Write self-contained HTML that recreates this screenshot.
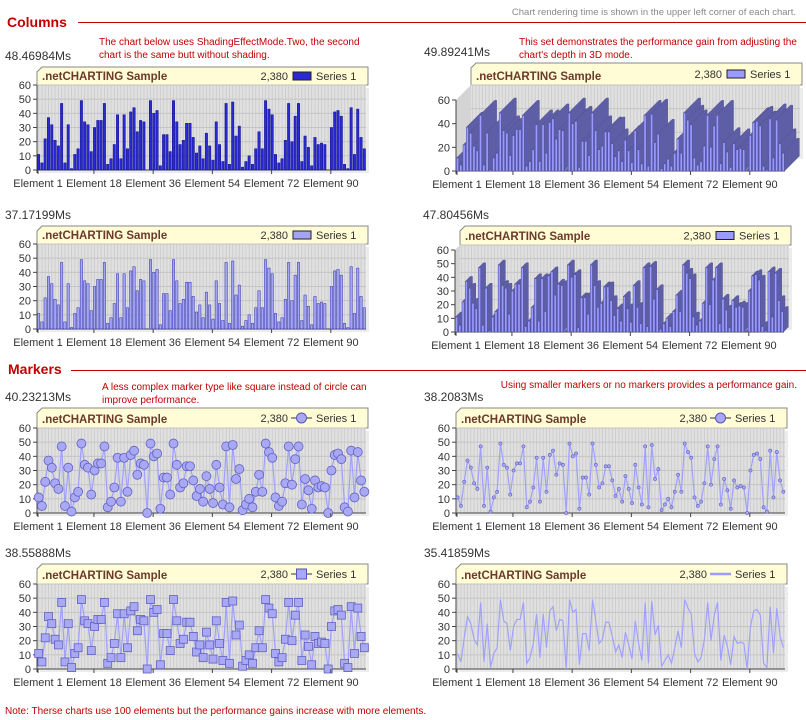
<!DOCTYPE html>
<html><head><meta charset="utf-8"><style>
body{margin:0;background:#fff;width:806px;height:720px;overflow:hidden}
svg{display:block}
</style></head><body>
<svg id="s" width="806" height="720" xmlns="http://www.w3.org/2000/svg" font-family="Liberation Sans, sans-serif"></svg>
<script>
var D=[11,5,22,37,32,21,17,47,5,32,1,11,15,49,34,32,13,30,35,35,47,4,8,18,39,8,39,15,41,44,27,35,34,0,49,40,42,3,25,25,13,49,34,18,21,33,33,23,12,17,8,26,17,7,34,18,6,47,4,48,24,31,2,6,10,4,15,27,15,49,43,39,11,5,8,21,47,20,38,47,6,24,16,3,23,18,19,18,0,30,41,42,38,4,1,44,11,43,23,15];
var o='';
function t(x,y,s,sz,fill,anchor,extra){o+='<text x="'+x+'" y="'+y+'" font-size="'+sz+'" fill="'+fill+'"'+(anchor?' text-anchor="'+anchor+'"':'')+(extra||'')+'>'+s+'</text>';}
t(796,15,'Chart rendering time is shown in the upper left corner of each chart.',9.5,'#888','end');
t(7,27,'Columns',14,'#c00000',null,' font-weight="bold"');
o+='<line x1="78" y1="22.5" x2="806" y2="22.5" stroke="#c00000"/>';
t(8,374,'Markers',14,'#c00000',null,' font-weight="bold"');
o+='<line x1="71" y1="370.5" x2="806" y2="370.5" stroke="#c00000"/>';
t(99,45,'The chart below uses ShadingEffectMode.Two, the second',10,'#c00000');
t(99,58,'chart is the same butt without shading.',10,'#c00000');
t(519,45,'This set demonstrates the performance gain from adjusting the',10,'#c00000');
t(519,58,"chart's depth in 3D mode.",10,'#c00000');
t(102,390,'A less complex marker type like square instead of circle can',10,'#c00000');
t(102,403,'improve performance.',10,'#c00000');
t(797,388,'Using smaller markers or no markers provides a performance gain.',10,'#c00000','end');
t(5,714,'Note: Therse charts use 100 elements but the performance gains increase with more elements.',10,'#c00000');

function chart(c){
 var X0=c.x,X1=c.x+329,T=c.t,PT=c.pt,PB=c.pb,d=c.d||0,ms=c.ms;
 t(c.x-32,T-7,ms,12,'#333');
 var tx0=X0+d,tx1=X1+d+2,ty0=T,ty1=c.tb;
 o+='<path d="M'+(tx0+5)+' '+ty0+' L'+tx1+' '+ty0+' L'+tx1+' '+ty1+' L'+tx0+' '+ty1+' L'+tx0+' '+(ty0+5)+' Z" fill="#fffcd6" stroke="#888"/>';
 t(tx0+5,ty1-5,'.netCHARTING Sample',11.5,'#6b3a2a',null,' font-weight="bold"');
 var by0=T+(ty1-T)/2+4;
 t(tx1-52,by0,'Series 1',11,'#333');
 var lx=tx1-75,ly=by0-8;
 if(c.type=='bar'){o+='<rect x="'+lx+'" y="'+ly+'" width="18" height="8" fill="'+c.fill+'" stroke="#222"/>';}
 else{o+='<line x1="'+(lx-2)+'" y1="'+(ly+4)+'" x2="'+(lx+19)+'" y2="'+(ly+4)+'" stroke="'+(c.m?'#333':'#9c9cff')+'" stroke-width="'+(c.m?1:2.5)+'"/>';
  if(c.m=='c')o+='<circle cx="'+(lx+8.5)+'" cy="'+(ly+4)+'" r="5" fill="#a8a8f4" stroke="#5555bb"/>';
  if(c.m=='d')o+='<circle cx="'+(lx+8.5)+'" cy="'+(ly+4)+'" r="5" fill="#a8a8f4" stroke="#5555bb"/>';
  if(c.m=='s')o+='<rect x="'+(lx+3.5)+'" y="'+(ly-1)+'" width="10" height="10" fill="#a8a8f4" stroke="#5555bb"/>';}
 t(lx-5,by0,'2,380',11,'#333','end');
 var H=PB-PT;
 function Y(v){return PB-v/60*H;}
 if(d){o+='<path d="M'+X0+' '+PB+' L'+X0+' '+PT+' L'+(X0+d)+' '+(PT-d)+' L'+(X0+d)+' '+(PB-d)+' Z" fill="#d4d4d4"/>';
  o+='<path d="M'+X0+' '+PB+' L'+(X0+d)+' '+(PB-d)+' L'+(X1+d)+' '+(PB-d)+' L'+X1+' '+PB+' Z" fill="#c8c8c8"/>';}
 o+='<rect x="'+(X0+d+3)+'" y="'+(PT-d+3)+'" width="329" height="'+H+'" fill="#ececec"/>';
 o+='<rect x="'+(X0+d)+'" y="'+(PT-d)+'" width="329" height="'+H+'" fill="#e0e0e0"/>';
 var st=329/100;
 for(var i=0;i<100;i++){var gx=X0+d+i*st+st/2;o+='<line x1="'+gx+'" y1="'+(PT-d)+'" x2="'+gx+'" y2="'+(PB-d)+'" stroke="#cacaca" stroke-width="0.8"/>';}
 for(var v=0;v<=60;v+=c.ys){var yy=Y(v);o+='<line x1="'+(X0+d)+'" y1="'+(yy-d)+'" x2="'+(X1+d)+'" y2="'+(yy-d)+'" stroke="#c4c4c4"/>';
  o+='<line x1="'+(X0-4)+'" y1="'+yy+'" x2="'+X0+'" y2="'+yy+'" stroke="#444"/>';
  t(X0-6,yy+4,v,11,'#333','end');}
 o+='<line x1="'+X0+'" y1="'+PT+'" x2="'+X0+'" y2="'+(PB+3)+'" stroke="#444"/>';
 o+='<line x1="'+(X0-3)+'" y1="'+PB+'" x2="'+X1+'" y2="'+PB+'" stroke="#444"/>';
 if(c.type=='bar'){
  var bw=d?2.2:2.4;
  for(var i=0;i<100;i++){var bx=X0+i*st+0.4,by=Y(D[i]);
   if(d){o+='<path d="M'+bx+' '+by+' L'+(bx+d)+' '+(by-d)+' L'+(bx+bw+d)+' '+(by-d)+' L'+(bx+bw+d)+' '+(PB-d)+' L'+(bx+bw)+' '+PB+' L'+(bx+bw)+' '+by+' Z" fill="#5e5ea6" stroke="#4a4a8a" stroke-width="0.4"/>';}
   o+='<rect x="'+bx+'" y="'+by+'" width="'+bw+'" height="'+(PB-by)+'" fill="'+c.fill+'" stroke="'+c.stroke+'" stroke-width="0.5"/>';}
 }else{
  var p='';for(var i=0;i<100;i++){p+=(i?'L':'M')+(X0+i*st+st/2)+' '+Y(D[i]);}
  o+='<path d="'+p+'" fill="none" stroke="#a0a0ff" stroke-width="1.2"/>';
  for(var i=0;i<100;i++){var mx=X0+i*st+st/2,my=Y(D[i]);
   if(c.m=='c')o+='<circle cx="'+mx+'" cy="'+my+'" r="4.5" fill="#a8a8f4" stroke="#6060c0" stroke-width="0.8"/>';
   if(c.m=='s')o+='<rect x="'+(mx-4)+'" y="'+(my-4)+'" width="8" height="8" fill="#a8a8f4" stroke="#6060c0" stroke-width="0.8"/>';
   if(c.m=='d')o+='<circle cx="'+mx+'" cy="'+my+'" r="1.6" fill="#a8a8f4" stroke="#6060c0" stroke-width="0.6"/>';}
 }
 var L=['Element 1','Element 18','Element 36','Element 54','Element 72','Element 90'],TX=[0,17,35,53,71,89];
 for(var k=0;k<6;k++){var lx2=X0+TX[k]*st+1;o+='<line x1="'+lx2+'" y1="'+PB+'" x2="'+lx2+'" y2="'+(PB+4)+'" stroke="#444"/>';
  t(lx2,PB+17,L[k],11,'#333','middle');}
}
chart({x:37,t:67,tb:85,pt:85,pb:170,type:'bar',fill:'#2a2ad0',stroke:'#101090',ys:10,ms:'48.46984Ms'});
chart({x:37,t:226,tb:244,pt:244,pb:329,type:'bar',fill:'#a4a4f4',stroke:'#3333aa',ys:10,ms:'37.17199Ms'});
chart({x:456,t:63,tb:85,pt:100,pb:171,d:15,type:'bar',fill:'#9a9aff',stroke:'#5050a0',ys:20,ms:'49.89241Ms'});
chart({x:455,t:226,tb:245,pt:250,pb:332,d:5,type:'bar',fill:'#9a9aff',stroke:'#5050a0',ys:10,ms:'47.80456Ms'});
chart({x:37,t:408,tb:428,pt:428,pb:513,type:'line',m:'c',ys:10,ms:'40.23213Ms'});
chart({x:456,t:408,tb:428,pt:428,pb:513,type:'line',m:'d',ys:10,ms:'38.2083Ms'});
chart({x:37,t:564,tb:584,pt:584,pb:669,type:'line',m:'s',ys:10,ms:'38.55888Ms'});
chart({x:456,t:564,tb:584,pt:584,pb:669,type:'line',ys:10,ms:'35.41859Ms'});
document.getElementById('s').innerHTML=o;
</script>
</body></html>
